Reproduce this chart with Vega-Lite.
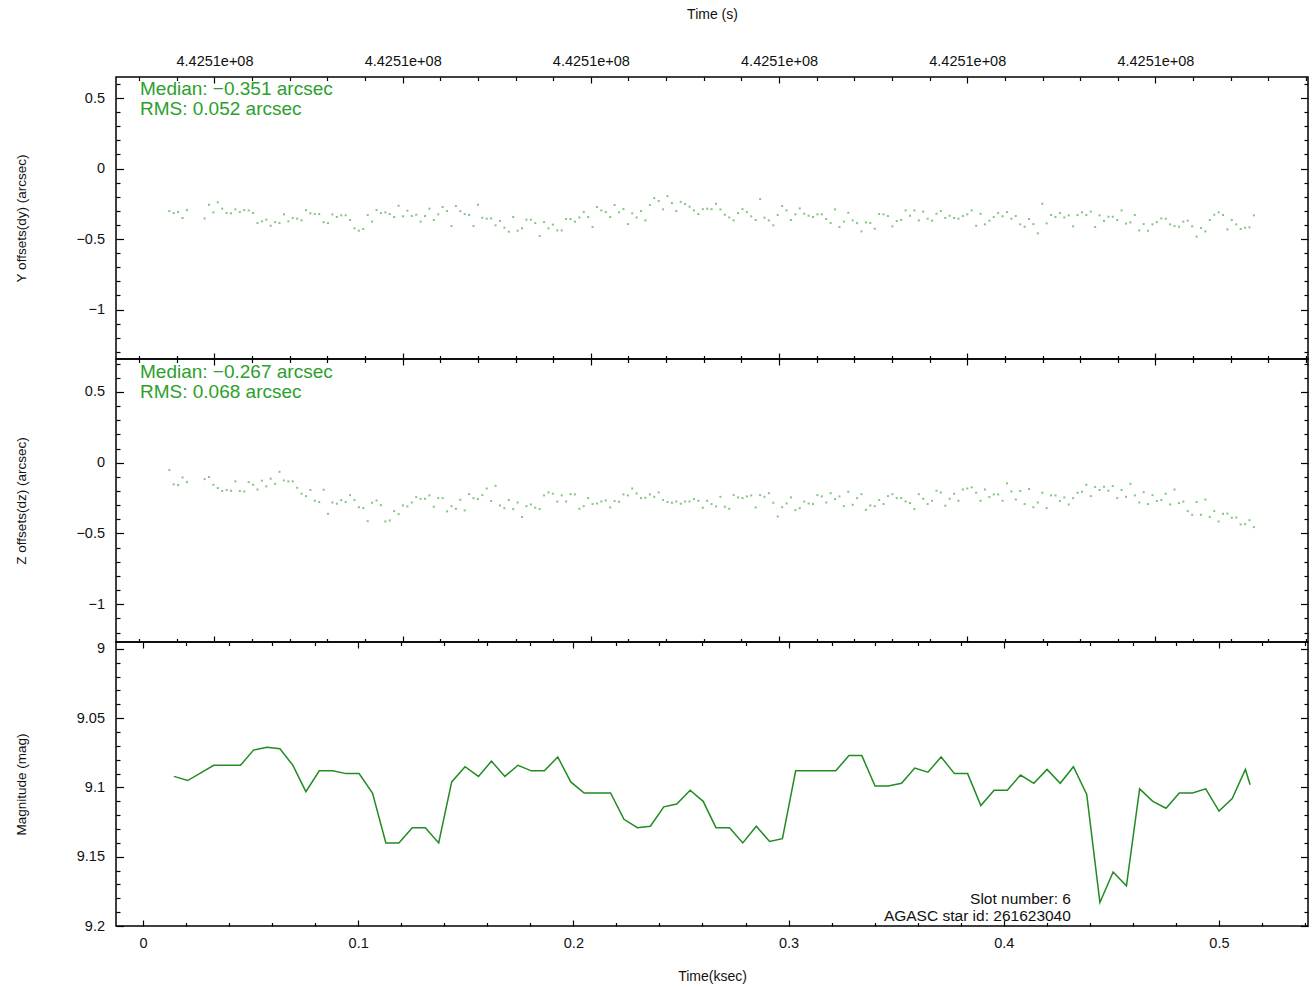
{
"$schema":"https://vega.github.io/schema/vega-lite/v6.json",
"background":"white",
"padding":{"left":13,"top":6,"right":0,"bottom":0},
"spacing":0,
"bounds":"flush",
"config":{
 "view":{"stroke":"black","strokeWidth":1.5},
 "axis":{"domain":false,"grid":false,"ticks":true,"tickColor":"#000","tickWidth":1.2,"labelFont":"Liberation Sans","labelFontSize":14.5,"labelColor":"#111","titleFont":"Liberation Sans","titleFontSize":14,"titleFontWeight":"normal","titleColor":"#111","labelFlush":false,"labelOverlap":false}
},
"datasets":{
"offs":[
{"t":0.01222,"dy":-0.302,"dz":-0.052},{"t":0.01427,"dy":-0.316,"dz":-0.153},{"t":0.01632,"dy":-0.309,"dz":-0.158},{"t":0.01837,"dy":-0.351,"dz":-0.104},{"t":0.02042,"dy":-0.295,"dz":-0.137},
{"t":0.02861,"dy":-0.354,"dz":-0.116},{"t":0.03066,"dy":-0.257,"dz":-0.101},{"t":0.03271,"dy":-0.311,"dz":-0.156},{"t":0.03476,"dy":-0.240,"dz":-0.179},{"t":0.03681,"dy":-0.285,"dz":-0.200},
{"t":0.03886,"dy":-0.316,"dz":-0.193},{"t":0.04090,"dy":-0.318,"dz":-0.198},{"t":0.04295,"dy":-0.290,"dz":-0.132},{"t":0.04500,"dy":-0.309,"dz":-0.200},{"t":0.04705,"dy":-0.295,"dz":-0.203},
{"t":0.04910,"dy":-0.297,"dz":-0.137},{"t":0.05115,"dy":-0.316,"dz":-0.156},{"t":0.05320,"dy":-0.387,"dz":-0.189},{"t":0.05525,"dy":-0.375,"dz":-0.127},{"t":0.05730,"dy":-0.363,"dz":-0.167},
{"t":0.05934,"dy":-0.406,"dz":-0.113},{"t":0.06139,"dy":-0.380,"dz":-0.149},{"t":0.06344,"dy":-0.387,"dz":-0.064},{"t":0.06549,"dy":-0.325,"dz":-0.125},{"t":0.06754,"dy":-0.375,"dz":-0.132},
{"t":0.06959,"dy":-0.351,"dz":-0.132},{"t":0.07164,"dy":-0.356,"dz":-0.177},{"t":0.07369,"dy":-0.368,"dz":-0.219},{"t":0.07574,"dy":-0.295,"dz":-0.236},{"t":0.07778,"dy":-0.318,"dz":-0.193},
{"t":0.07983,"dy":-0.323,"dz":-0.269},{"t":0.08188,"dy":-0.323,"dz":-0.278},{"t":0.08393,"dy":-0.380,"dz":-0.191},{"t":0.08598,"dy":-0.387,"dz":-0.361},{"t":0.08803,"dy":-0.325,"dz":-0.281},
{"t":0.09008,"dy":-0.344,"dz":-0.290},{"t":0.09213,"dy":-0.332,"dz":-0.264},{"t":0.09418,"dy":-0.332,"dz":-0.278},{"t":0.09622,"dy":-0.365,"dz":-0.229},{"t":0.09827,"dy":-0.424,"dz":-0.264},
{"t":0.10032,"dy":-0.441,"dz":-0.314},{"t":0.10237,"dy":-0.429,"dz":-0.321},{"t":0.10442,"dy":-0.330,"dz":-0.413},{"t":0.10647,"dy":-0.377,"dz":-0.283},{"t":0.10852,"dy":-0.295,"dz":-0.267},
{"t":0.11057,"dy":-0.316,"dz":-0.300},{"t":0.11262,"dy":-0.311,"dz":-0.415},{"t":0.11467,"dy":-0.323,"dz":-0.408},{"t":0.11671,"dy":-0.344,"dz":-0.342},{"t":0.11876,"dy":-0.264,"dz":-0.363},
{"t":0.12081,"dy":-0.339,"dz":-0.302},{"t":0.12286,"dy":-0.299,"dz":-0.309},{"t":0.12491,"dy":-0.337,"dz":-0.281},{"t":0.12696,"dy":-0.328,"dz":-0.243},{"t":0.12901,"dy":-0.377,"dz":-0.255},
{"t":0.13106,"dy":-0.337,"dz":-0.255},{"t":0.13311,"dy":-0.285,"dz":-0.231},{"t":0.13515,"dy":-0.365,"dz":-0.311},{"t":0.13720,"dy":-0.325,"dz":-0.250},{"t":0.13925,"dy":-0.273,"dz":-0.250},
{"t":0.14130,"dy":-0.302,"dz":-0.344},{"t":0.14335,"dy":-0.408,"dz":-0.307},{"t":0.14540,"dy":-0.266,"dz":-0.326},{"t":0.14745,"dy":-0.302,"dz":-0.262},{"t":0.14950,"dy":-0.323,"dz":-0.337},
{"t":0.15155,"dy":-0.330,"dz":-0.222},{"t":0.15359,"dy":-0.408,"dz":-0.250},{"t":0.15564,"dy":-0.257,"dz":-0.257},{"t":0.15769,"dy":-0.349,"dz":-0.229},{"t":0.15974,"dy":-0.356,"dz":-0.182},
{"t":0.16179,"dy":-0.354,"dz":-0.271},{"t":0.16384,"dy":-0.403,"dz":-0.163},{"t":0.16589,"dy":-0.372,"dz":-0.302},{"t":0.16794,"dy":-0.420,"dz":-0.321},{"t":0.16999,"dy":-0.448,"dz":-0.264},
{"t":0.17203,"dy":-0.344,"dz":-0.328},{"t":0.17408,"dy":-0.441,"dz":-0.281},{"t":0.17613,"dy":-0.424,"dz":-0.384},{"t":0.17818,"dy":-0.363,"dz":-0.307},{"t":0.18023,"dy":-0.363,"dz":-0.295},
{"t":0.18228,"dy":-0.387,"dz":-0.318},{"t":0.18433,"dy":-0.479,"dz":-0.328},{"t":0.18638,"dy":-0.380,"dz":-0.231},{"t":0.18843,"dy":-0.424,"dz":-0.210},{"t":0.19047,"dy":-0.398,"dz":-0.219},
{"t":0.19252,"dy":-0.439,"dz":-0.274},{"t":0.19457,"dy":-0.439,"dz":-0.231},{"t":0.19662,"dy":-0.358,"dz":-0.274},{"t":0.19867,"dy":-0.358,"dz":-0.222},{"t":0.20072,"dy":-0.377,"dz":-0.224},
{"t":0.20277,"dy":-0.347,"dz":-0.326},{"t":0.20482,"dy":-0.309,"dz":-0.307},{"t":0.20687,"dy":-0.344,"dz":-0.250},{"t":0.20891,"dy":-0.415,"dz":-0.292},{"t":0.21096,"dy":-0.273,"dz":-0.288},
{"t":0.21301,"dy":-0.297,"dz":-0.274},{"t":0.21506,"dy":-0.309,"dz":-0.267},{"t":0.21711,"dy":-0.344,"dz":-0.316},{"t":0.21916,"dy":-0.259,"dz":-0.271},{"t":0.22121,"dy":-0.311,"dz":-0.276},
{"t":0.22326,"dy":-0.288,"dz":-0.224},{"t":0.22531,"dy":-0.394,"dz":-0.231},{"t":0.22735,"dy":-0.318,"dz":-0.182},{"t":0.22940,"dy":-0.347,"dz":-0.217},{"t":0.23145,"dy":-0.302,"dz":-0.250},
{"t":0.23350,"dy":-0.368,"dz":-0.248},{"t":0.23555,"dy":-0.259,"dz":-0.224},{"t":0.23760,"dy":-0.210,"dz":-0.241},{"t":0.23965,"dy":-0.231,"dz":-0.210},{"t":0.24170,"dy":-0.290,"dz":-0.264},
{"t":0.24375,"dy":-0.196,"dz":-0.278},{"t":0.24579,"dy":-0.245,"dz":-0.283},{"t":0.24784,"dy":-0.302,"dz":-0.274},{"t":0.24989,"dy":-0.236,"dz":-0.290},{"t":0.25194,"dy":-0.252,"dz":-0.274},
{"t":0.25399,"dy":-0.271,"dz":-0.274},{"t":0.25604,"dy":-0.297,"dz":-0.257},{"t":0.25809,"dy":-0.323,"dz":-0.269},{"t":0.26014,"dy":-0.288,"dz":-0.318},{"t":0.26219,"dy":-0.285,"dz":-0.269},
{"t":0.26423,"dy":-0.288,"dz":-0.292},{"t":0.26628,"dy":-0.250,"dz":-0.309},{"t":0.26833,"dy":-0.290,"dz":-0.241},{"t":0.27038,"dy":-0.328,"dz":-0.311},{"t":0.27243,"dy":-0.347,"dz":-0.326},
{"t":0.27448,"dy":-0.368,"dz":-0.229},{"t":0.27653,"dy":-0.316,"dz":-0.245},{"t":0.27858,"dy":-0.288,"dz":-0.250},{"t":0.28063,"dy":-0.309,"dz":-0.238},{"t":0.28267,"dy":-0.339,"dz":-0.231},
{"t":0.28472,"dy":-0.365,"dz":-0.316},{"t":0.28677,"dy":-0.217,"dz":-0.229},{"t":0.28882,"dy":-0.349,"dz":-0.241},{"t":0.29087,"dy":-0.368,"dz":-0.215},{"t":0.29292,"dy":-0.403,"dz":-0.283},
{"t":0.29497,"dy":-0.330,"dz":-0.380},{"t":0.29702,"dy":-0.266,"dz":-0.314},{"t":0.29907,"dy":-0.297,"dz":-0.288},{"t":0.30111,"dy":-0.365,"dz":-0.245},{"t":0.30316,"dy":-0.325,"dz":-0.335},
{"t":0.30521,"dy":-0.283,"dz":-0.321},{"t":0.30726,"dy":-0.321,"dz":-0.274},{"t":0.30931,"dy":-0.335,"dz":-0.288},{"t":0.31136,"dy":-0.344,"dz":-0.292},{"t":0.31341,"dy":-0.325,"dz":-0.229},
{"t":0.31546,"dy":-0.325,"dz":-0.238},{"t":0.31751,"dy":-0.358,"dz":-0.281},{"t":0.31956,"dy":-0.387,"dz":-0.215},{"t":0.32160,"dy":-0.290,"dz":-0.257},{"t":0.32365,"dy":-0.415,"dz":-0.238},
{"t":0.32570,"dy":-0.377,"dz":-0.307},{"t":0.32775,"dy":-0.314,"dz":-0.205},{"t":0.32980,"dy":-0.368,"dz":-0.297},{"t":0.33185,"dy":-0.387,"dz":-0.250},{"t":0.33390,"dy":-0.446,"dz":-0.222},
{"t":0.33595,"dy":-0.382,"dz":-0.333},{"t":0.33800,"dy":-0.387,"dz":-0.302},{"t":0.34004,"dy":-0.427,"dz":-0.307},{"t":0.34209,"dy":-0.323,"dz":-0.264},{"t":0.34414,"dy":-0.325,"dz":-0.292},
{"t":0.34619,"dy":-0.337,"dz":-0.236},{"t":0.34824,"dy":-0.410,"dz":-0.222},{"t":0.35029,"dy":-0.372,"dz":-0.250},{"t":0.35234,"dy":-0.365,"dz":-0.250},{"t":0.35439,"dy":-0.297,"dz":-0.274},
{"t":0.35644,"dy":-0.335,"dz":-0.285},{"t":0.35848,"dy":-0.297,"dz":-0.328},{"t":0.36053,"dy":-0.368,"dz":-0.222},{"t":0.36258,"dy":-0.306,"dz":-0.255},{"t":0.36463,"dy":-0.356,"dz":-0.292},
{"t":0.36668,"dy":-0.370,"dz":-0.269},{"t":0.36873,"dy":-0.321,"dz":-0.198},{"t":0.37078,"dy":-0.302,"dz":-0.210},{"t":0.37283,"dy":-0.351,"dz":-0.304},{"t":0.37488,"dy":-0.335,"dz":-0.255},
{"t":0.37692,"dy":-0.351,"dz":-0.219},{"t":0.37897,"dy":-0.356,"dz":-0.269},{"t":0.38102,"dy":-0.337,"dz":-0.189},{"t":0.38307,"dy":-0.325,"dz":-0.182},{"t":0.38512,"dy":-0.297,"dz":-0.174},
{"t":0.38717,"dy":-0.406,"dz":-0.212},{"t":0.38922,"dy":-0.321,"dz":-0.269},{"t":0.39127,"dy":-0.396,"dz":-0.189},{"t":0.39332,"dy":-0.370,"dz":-0.243},{"t":0.39536,"dy":-0.344,"dz":-0.224},
{"t":0.39741,"dy":-0.316,"dz":-0.224},{"t":0.39946,"dy":-0.339,"dz":-0.269},{"t":0.40151,"dy":-0.309,"dz":-0.146},{"t":0.40356,"dy":-0.356,"dz":-0.203},{"t":0.40561,"dy":-0.337,"dz":-0.260},
{"t":0.40766,"dy":-0.396,"dz":-0.200},{"t":0.40971,"dy":-0.413,"dz":-0.292},{"t":0.41176,"dy":-0.358,"dz":-0.186},{"t":0.41380,"dy":-0.394,"dz":-0.314},{"t":0.41585,"dy":-0.460,"dz":-0.281},
{"t":0.41790,"dy":-0.250,"dz":-0.212},{"t":0.41995,"dy":-0.389,"dz":-0.321},{"t":0.42200,"dy":-0.330,"dz":-0.231},{"t":0.42405,"dy":-0.344,"dz":-0.231},{"t":0.42610,"dy":-0.316,"dz":-0.271},
{"t":0.42815,"dy":-0.347,"dz":-0.245},{"t":0.43020,"dy":-0.332,"dz":-0.295},{"t":0.43224,"dy":-0.410,"dz":-0.250},{"t":0.43429,"dy":-0.330,"dz":-0.212},{"t":0.43634,"dy":-0.311,"dz":-0.205},
{"t":0.43839,"dy":-0.330,"dz":-0.156},{"t":0.44044,"dy":-0.306,"dz":-0.236},{"t":0.44249,"dy":-0.415,"dz":-0.172},{"t":0.44454,"dy":-0.332,"dz":-0.193},{"t":0.44659,"dy":-0.372,"dz":-0.170},
{"t":0.44864,"dy":-0.342,"dz":-0.198},{"t":0.45068,"dy":-0.342,"dz":-0.165},{"t":0.45273,"dy":-0.365,"dz":-0.250},{"t":0.45478,"dy":-0.297,"dz":-0.193},{"t":0.45683,"dy":-0.391,"dz":-0.241},
{"t":0.45888,"dy":-0.382,"dz":-0.149},{"t":0.46093,"dy":-0.330,"dz":-0.231},{"t":0.46298,"dy":-0.439,"dz":-0.281},{"t":0.46503,"dy":-0.394,"dz":-0.208},{"t":0.46708,"dy":-0.441,"dz":-0.292},
{"t":0.46912,"dy":-0.396,"dz":-0.229},{"t":0.47117,"dy":-0.380,"dz":-0.271},{"t":0.47322,"dy":-0.354,"dz":-0.264},{"t":0.47527,"dy":-0.356,"dz":-0.219},{"t":0.47732,"dy":-0.396,"dz":-0.295},
{"t":0.47937,"dy":-0.408,"dz":-0.189},{"t":0.48142,"dy":-0.413,"dz":-0.285},{"t":0.48347,"dy":-0.377,"dz":-0.274},{"t":0.48552,"dy":-0.370,"dz":-0.342},{"t":0.48756,"dy":-0.410,"dz":-0.368},
{"t":0.48961,"dy":-0.483,"dz":-0.278},{"t":0.49166,"dy":-0.422,"dz":-0.368},{"t":0.49371,"dy":-0.446,"dz":-0.260},{"t":0.49576,"dy":-0.365,"dz":-0.384},{"t":0.49781,"dy":-0.328,"dz":-0.342},
{"t":0.49986,"dy":-0.311,"dz":-0.415},{"t":0.50191,"dy":-0.330,"dz":-0.361},{"t":0.50396,"dy":-0.432,"dz":-0.359},{"t":0.50600,"dy":-0.365,"dz":-0.389},{"t":0.50805,"dy":-0.396,"dz":-0.387},
{"t":0.51010,"dy":-0.429,"dz":-0.436},{"t":0.51215,"dy":-0.420,"dz":-0.434},{"t":0.51420,"dy":-0.417,"dz":-0.406},{"t":0.51625,"dy":-0.332,"dz":-0.455}
],
"mag":[
{"t":0.01436,"mag":9.092},{"t":0.02077,"mag":9.095},{"t":0.03285,"mag":9.084},{"t":0.03908,"mag":9.084},{"t":0.04531,"mag":9.084},{"t":0.05135,"mag":9.073},{"t":0.05757,"mag":9.071},{"t":0.06362,"mag":9.072},{"t":0.06966,"mag":9.084},{"t":0.07570,"mag":9.103},
{"t":0.08192,"mag":9.088},{"t":0.08815,"mag":9.088},{"t":0.09438,"mag":9.090},{"t":0.10042,"mag":9.090},{"t":0.10664,"mag":9.104},{"t":0.11287,"mag":9.140},{"t":0.11891,"mag":9.140},{"t":0.12514,"mag":9.129},{"t":0.13118,"mag":9.129},{"t":0.13741,"mag":9.140},
{"t":0.14345,"mag":9.096},{"t":0.14967,"mag":9.085},{"t":0.15590,"mag":9.092},{"t":0.16194,"mag":9.081},{"t":0.16817,"mag":9.092},{"t":0.17426,"mag":9.084},{"t":0.18048,"mag":9.088},{"t":0.18652,"mag":9.088},{"t":0.19275,"mag":9.078},{"t":0.19879,"mag":9.096},
{"t":0.20502,"mag":9.104},{"t":0.21106,"mag":9.104},{"t":0.21729,"mag":9.104},{"t":0.22351,"mag":9.123},{"t":0.22974,"mag":9.129},{"t":0.23578,"mag":9.128},{"t":0.24201,"mag":9.114},{"t":0.24805,"mag":9.112},{"t":0.25427,"mag":9.102},{"t":0.26032,"mag":9.110},
{"t":0.26626,"mag":9.129},{"t":0.27258,"mag":9.129},{"t":0.27872,"mag":9.140},{"t":0.28504,"mag":9.128},{"t":0.29117,"mag":9.139},{"t":0.29716,"mag":9.137},{"t":0.30330,"mag":9.088},{"t":0.30962,"mag":9.088},{"t":0.31580,"mag":9.088},{"t":0.32193,"mag":9.088},
{"t":0.32807,"mag":9.077},{"t":0.33406,"mag":9.077},{"t":0.34020,"mag":9.099},{"t":0.34633,"mag":9.099},{"t":0.35251,"mag":9.097},{"t":0.35864,"mag":9.086},{"t":0.36478,"mag":9.089},{"t":0.37091,"mag":9.078},{"t":0.37709,"mag":9.090},{"t":0.38322,"mag":9.090},
{"t":0.38936,"mag":9.113},{"t":0.39554,"mag":9.102},{"t":0.40167,"mag":9.102},{"t":0.40781,"mag":9.091},{"t":0.41399,"mag":9.097},{"t":0.42012,"mag":9.087},{"t":0.42625,"mag":9.097},{"t":0.43239,"mag":9.085},{"t":0.43857,"mag":9.105},{"t":0.44470,"mag":9.183},
{"t":0.45084,"mag":9.161},{"t":0.45702,"mag":9.171},{"t":0.46315,"mag":9.101},{"t":0.46929,"mag":9.110},{"t":0.47542,"mag":9.115},{"t":0.48160,"mag":9.104},{"t":0.48773,"mag":9.104},{"t":0.49387,"mag":9.101},{"t":0.50005,"mag":9.117},{"t":0.50618,"mag":9.108},
{"t":0.51231,"mag":9.087},{"t":0.51450,"mag":9.098}
]
},
"resolve":{"scale":{"x":"independent","y":"independent"}},
"vconcat":[
{
 "width":1192,"height":282,
 "data":{"name":"offs"},
 "resolve":{"axis":{"x":"independent","y":"independent"}},
 "layer":[
  {"mark":{"type":"point","shape":"square","filled":true,"size":4,"color":"#2ca02c","opacity":0.6,"strokeWidth":0},
   "encoding":{
    "x":{"field":"t","type":"quantitative","scale":{"domain":[-0.01255,0.5414],"nice":false,"zero":false},"axis":{"orient":"bottom","values":[0.03322,0.12068,0.20813,0.29558,0.38304,0.47049],"labels":false,"tickSize":-6,"title":null}},
    "y":{"field":"dy","type":"quantitative","scale":{"domain":[-1.351,0.649],"nice":false,"zero":false},"axis":{"orient":"left","values":[-1,-0.5,0,0.5],"format":".1~f","tickSize":-7.5,"labelPadding":19,"title":"Y offsets(dy) (arcsec)","titleFontSize":13.5,"titlePadding":7.5,"minExtent":80,"maxExtent":80}}}},
  {"mark":{"type":"point","opacity":0},
   "encoding":{
    "x":{"field":"t","type":"quantitative","axis":{"orient":"bottom","values":[-0.00177,0.01572,0.0507,0.06819,0.08569,0.10318,0.13816,0.15565,0.17314,0.19063,0.22562,0.24311,0.2606,0.27809,0.31307,0.33056,0.34805,0.36555,0.40053,0.41802,0.43551,0.453,0.48798,0.50548,0.52297,0.54046],"labels":false,"tickSize":-3.5,"title":null}},
    "y":{"field":"dy","type":"quantitative","axis":{"orient":"left","values":[-1.3,-1.2,-1.1,-0.9,-0.8,-0.7,-0.6,-0.4,-0.3,-0.2,-0.1,0.1,0.2,0.3,0.4,0.6],"labels":false,"tickSize":-4,"title":null}}}},
  {"mark":{"type":"point","opacity":0},
   "encoding":{
    "x":{"field":"t","type":"quantitative","axis":{"orient":"top","values":[0.03322,0.12068,0.20813,0.29558,0.38304,0.47049],"labelExpr":"'4.4251e+08'","tickSize":-6,"labelPadding":15,"title":"Time (s)","titlePadding":32}},
    "y":{"field":"dy","type":"quantitative","axis":{"orient":"right","values":[-1,-0.5,0,0.5],"labels":false,"tickSize":-7.5,"title":null}}}},
  {"mark":{"type":"point","opacity":0},
   "encoding":{
    "x":{"field":"t","type":"quantitative","axis":{"orient":"top","values":[-0.00177,0.01572,0.0507,0.06819,0.08569,0.10318,0.13816,0.15565,0.17314,0.19063,0.22562,0.24311,0.2606,0.27809,0.31307,0.33056,0.34805,0.36555,0.40053,0.41802,0.43551,0.453,0.48798,0.50548,0.52297,0.54046],"labels":false,"tickSize":-3.5,"title":null}},
    "y":{"field":"dy","type":"quantitative","axis":{"orient":"right","values":[-1.3,-1.2,-1.1,-0.9,-0.8,-0.7,-0.6,-0.4,-0.3,-0.2,-0.1,0.1,0.2,0.3,0.4,0.6],"labels":false,"tickSize":-4,"title":null}}}},
  {"data":{"values":[{"label":"Median: −0.351 arcsec\nRMS: 0.052 arcsec"}]},
   "mark":{"type":"text","align":"left","baseline":"alphabetic","fontSize":19,"lineHeight":20,"lineBreak":"\n","color":"#2ca02c","font":"Liberation Sans"},
   "encoding":{"x":{"datum":-0.0014,"type":"quantitative","axis":null},"y":{"datum":0.5216,"type":"quantitative","axis":null},"text":{"field":"label"}}}
 ]
},
{
 "width":1192,"height":283,
 "data":{"name":"offs"},
 "resolve":{"axis":{"x":"independent","y":"independent"}},
 "layer":[
  {"mark":{"type":"point","shape":"square","filled":true,"size":4,"color":"#2ca02c","opacity":0.6,"strokeWidth":0},
   "encoding":{
    "x":{"field":"t","type":"quantitative","scale":{"domain":[-0.01255,0.5414],"nice":false,"zero":false},"axis":{"orient":"bottom","values":[0.03322,0.12068,0.20813,0.29558,0.38304,0.47049],"labels":false,"tickSize":-6,"title":null}},
    "y":{"field":"dz","type":"quantitative","scale":{"domain":[-1.267,0.733],"nice":false,"zero":false},"axis":{"orient":"left","values":[-1,-0.5,0,0.5],"format":".1~f","tickSize":-7.5,"labelPadding":19,"title":"Z offsets(dz) (arcsec)","titleFontSize":13.5,"titlePadding":7.5,"minExtent":80,"maxExtent":80}}}},
  {"mark":{"type":"point","opacity":0},
   "encoding":{
    "x":{"field":"t","type":"quantitative","axis":{"orient":"bottom","values":[-0.00177,0.01572,0.0507,0.06819,0.08569,0.10318,0.13816,0.15565,0.17314,0.19063,0.22562,0.24311,0.2606,0.27809,0.31307,0.33056,0.34805,0.36555,0.40053,0.41802,0.43551,0.453,0.48798,0.50548,0.52297,0.54046],"labels":false,"tickSize":-3.5,"title":null}},
    "y":{"field":"dz","type":"quantitative","axis":{"orient":"left","values":[-1.2,-1.1,-0.9,-0.8,-0.7,-0.6,-0.4,-0.3,-0.2,-0.1,0.1,0.2,0.3,0.4,0.6,0.7],"labels":false,"tickSize":-4,"title":null}}}},
  {"mark":{"type":"point","opacity":0},
   "encoding":{
    "x":{"field":"t","type":"quantitative","axis":{"orient":"top","values":[0.03322,0.12068,0.20813,0.29558,0.38304,0.47049],"labels":false,"tickSize":-6,"title":null}},
    "y":{"field":"dz","type":"quantitative","axis":{"orient":"right","values":[-1,-0.5,0,0.5],"labels":false,"tickSize":-7.5,"title":null}}}},
  {"mark":{"type":"point","opacity":0},
   "encoding":{
    "x":{"field":"t","type":"quantitative","axis":{"orient":"top","values":[-0.00177,0.01572,0.0507,0.06819,0.08569,0.10318,0.13816,0.15565,0.17314,0.19063,0.22562,0.24311,0.2606,0.27809,0.31307,0.33056,0.34805,0.36555,0.40053,0.41802,0.43551,0.453,0.48798,0.50548,0.52297,0.54046],"labels":false,"tickSize":-3.5,"title":null}},
    "y":{"field":"dz","type":"quantitative","axis":{"orient":"right","values":[-1.2,-1.1,-0.9,-0.8,-0.7,-0.6,-0.4,-0.3,-0.2,-0.1,0.1,0.2,0.3,0.4,0.6,0.7],"labels":false,"tickSize":-4,"title":null}}}},
  {"data":{"values":[{"label":"Median: −0.267 arcsec\nRMS: 0.068 arcsec"}]},
   "mark":{"type":"text","align":"left","baseline":"alphabetic","fontSize":19,"lineHeight":20,"lineBreak":"\n","color":"#2ca02c","font":"Liberation Sans"},
   "encoding":{"x":{"datum":-0.0014,"type":"quantitative","axis":null},"y":{"datum":0.6016,"type":"quantitative","axis":null},"text":{"field":"label"}}}
 ]
},
{
 "width":1192,"height":284,
 "data":{"name":"mag"},
 "resolve":{"axis":{"x":"independent","y":"independent"}},
 "layer":[
  {"mark":{"type":"line","color":"#228b22","strokeWidth":1.5},
   "encoding":{
    "x":{"field":"t","type":"quantitative","scale":{"domain":[-0.01255,0.5414],"nice":false,"zero":false},"axis":{"orient":"bottom","values":[0,0.1,0.2,0.3,0.4,0.5],"format":".1~f","tickSize":-6,"labelPadding":16,"title":"Time(ksec)","titlePadding":20}},
    "y":{"field":"mag","type":"quantitative","scale":{"domain":[8.995,9.2],"reverse":true,"nice":false,"zero":false},"axis":{"orient":"left","values":[9,9.05,9.1,9.15,9.2],"format":".2~f","tickSize":-7.5,"labelPadding":19,"title":"Magnitude (mag)","titleFontSize":13.5,"titlePadding":7.5,"minExtent":80,"maxExtent":80}}}},
  {"mark":{"type":"point","opacity":0},
   "encoding":{
    "x":{"field":"t","type":"quantitative","axis":{"orient":"bottom","values":[0.02,0.04,0.06,0.08,0.12,0.14,0.16,0.18,0.22,0.24,0.26,0.28,0.32,0.34,0.36,0.38,0.42,0.44,0.46,0.48,0.52,0.54],"labels":false,"tickSize":-3.5,"title":null}},
    "y":{"field":"mag","type":"quantitative","axis":{"orient":"left","values":[9.01,9.02,9.03,9.04,9.06,9.07,9.08,9.09,9.11,9.12,9.13,9.14,9.16,9.17,9.18,9.19],"labels":false,"tickSize":-4,"title":null}}}},
  {"mark":{"type":"point","opacity":0},
   "encoding":{
    "x":{"field":"t","type":"quantitative","axis":{"orient":"top","values":[0,0.1,0.2,0.3,0.4,0.5],"labels":false,"tickSize":-6,"title":null}},
    "y":{"field":"mag","type":"quantitative","axis":{"orient":"right","values":[9,9.05,9.1,9.15,9.2],"labels":false,"tickSize":-7.5,"title":null}}}},
  {"mark":{"type":"point","opacity":0},
   "encoding":{
    "x":{"field":"t","type":"quantitative","axis":{"orient":"top","values":[0.02,0.04,0.06,0.08,0.12,0.14,0.16,0.18,0.22,0.24,0.26,0.28,0.32,0.34,0.36,0.38,0.42,0.44,0.46,0.48,0.52,0.54],"labels":false,"tickSize":-3.5,"title":null}},
    "y":{"field":"mag","type":"quantitative","axis":{"orient":"right","values":[9.01,9.02,9.03,9.04,9.06,9.07,9.08,9.09,9.11,9.12,9.13,9.14,9.16,9.17,9.18,9.19],"labels":false,"tickSize":-4,"title":null}}}},
  {"data":{"values":[{"label":"Slot number: 6\nAGASC star id: 261623040"}]},
   "mark":{"type":"text","align":"right","baseline":"alphabetic","fontSize":15.5,"lineHeight":17,"lineBreak":"\n","color":"#111","font":"Liberation Sans"},
   "encoding":{"x":{"datum":0.4312,"type":"quantitative","axis":null},"y":{"datum":9.1838,"type":"quantitative","axis":null},"text":{"field":"label"}}}
 ]
}
]
}
